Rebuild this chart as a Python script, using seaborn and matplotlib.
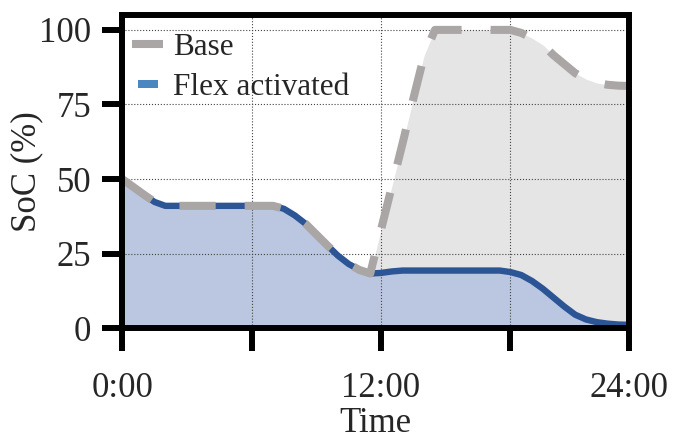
import numpy as np
import pandas as pd
import matplotlib
matplotlib.use("Agg")
import matplotlib.pyplot as plt
from matplotlib.lines import Line2D
import seaborn as sns

# ---- data (half-hour resolution) ----
hours = [i * 0.5 for i in range(48)]
base_soc = [50, 47.4, 44.8, 42.3, 41, 41, 41, 41, 41, 41, 41, 41, 41, 41,
            41, 40, 37.8, 35, 31.4, 27.8, 24.3, 21.5, 19.5, 18.3,
            33, 47.5, 62, 77, 91.5, 100, 100, 100, 100, 100, 100, 100, 100,
            99, 97.2, 95, 91.5, 88.5, 85.5, 83.5, 82.2, 81.6, 81.3, 81.2]
flex_soc = [50, 47.4, 44.8, 42.3, 41, 41, 41, 41, 41, 41, 41, 41, 41, 41,
            41, 40, 37.8, 35, 31.4, 27.8, 24.3, 21.5, 19.5, 18.3,
            18.5, 19, 19.3, 19.3, 19.3, 19.3, 19.3, 19.3, 19.3, 19.3, 19.3, 19.3, 18.8,
            17.8, 15.8, 13.2, 10.2, 7.2, 4.5, 2.9, 2.0, 1.5, 1.2, 1.1]
tick_pos = [0, 6, 12, 18, 23.5]
tick_labels = ["0:00", "", "12:00", "", "24:00"]
y_ticks = [0, 25, 50, 75, 100]
series_names = ["Base", "Flex activated"]

df = pd.DataFrame({"t": hours, "base": base_soc, "flex": flex_soc})

sns.set_style("white")
plt.rcParams["font.family"] = ["Liberation Serif", "DejaVu Serif"]

GRAY_LINE = "#aaa6a6"
GRAY_FILL = "#e5e5e5"
BLUE_LINE = "#2c5596"
BLUE_FILL = "#bbc7e0"
BLUE_LEG = "#4a86c0"

fig = plt.figure(figsize=(6.75, 4.41), dpi=100)
ax = fig.add_axes([0.181, 0.256, 0.751, 0.710])

ax.fill_between(df["t"], df["flex"], df["base"], color=GRAY_FILL, lw=0, zorder=0.5)
ax.fill_between(df["t"], 0, df["flex"], color=BLUE_FILL, lw=0, zorder=0.6)

sns.lineplot(data=df, x="t", y="flex", ax=ax, color=BLUE_LINE, lw=4.6,
             solid_capstyle="butt", zorder=3)
sns.lineplot(data=df, x="t", y="base", ax=ax, color=GRAY_LINE, lw=5.8, zorder=4)
ax.lines[-1].set_linestyle((0, (4.5, 3.6)))
ax.lines[-1].set_dash_capstyle("butt")

ax.set_xlim(0, 23.5)
ax.set_ylim(0, 105)
ax.set_xticks(tick_pos)
ax.set_xticklabels(tick_labels)
ax.set_yticks(y_ticks)

ax.set_axisbelow("line")
ax.grid(True, ls=":", color="#444444", lw=0.8, zorder=1.5)

for s in ax.spines.values():
    s.set_visible(True)
    s.set_color("black")
    s.set_linewidth(4.3)
    s.set_zorder(6)

ax.tick_params(axis="x", which="major", direction="out", length=16.5, width=4.3,
               labelsize=25, pad=15, color="black", bottom=True)
ax.tick_params(axis="y", which="major", direction="out", length=14.4, width=4.3,
               labelsize=25, pad=8, color="black", left=True)

ax.set_xlabel("Time", fontsize=25, labelpad=1.5)
ax.set_ylabel("SoC (%)", fontsize=25, labelpad=-3)

handles = [
    Line2D([], [], color=GRAY_LINE, lw=5.8, solid_capstyle="butt"),
    Line2D([], [], ls="none", marker=[(-2.5, -1), (2.5, -1), (2.5, 1), (-2.5, 1)],
           markersize=14.4, markerfacecolor=BLUE_LEG, markeredgewidth=0),
]
ax.legend(handles, series_names, loc="upper left", frameon=False,
          bbox_to_anchor=(0.0074, 0.964),
          fontsize=22.5, handlelength=1.0, handletextpad=0.3,
          labelspacing=0.38, borderaxespad=0.0, borderpad=0.2)

fig.savefig("out.png", dpi=100)
